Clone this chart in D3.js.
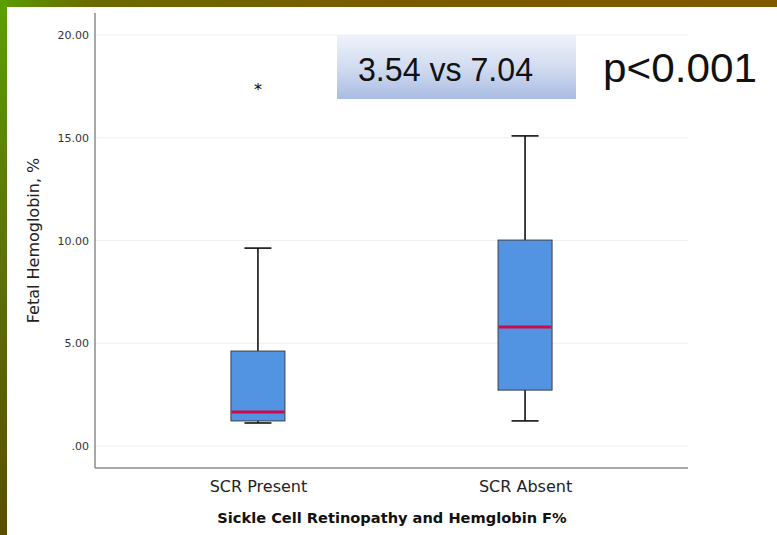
<!DOCTYPE html>
<html>
  <head>
    <title>Sickle Cell Retinopathy and Hemglobin F%</title>
    <meta charset="utf-8">
    <script type="text/javascript" src="https://cdn.jsdelivr.net/npm/d3@7"></script>
    <style type="text/css">
        body { margin: 0; padding: 0; background: #ffffff; }
        svg { display: block; }
    </style>
  </head>
  <body>
    <div id="viz"></div>
    <script type="text/javascript">
        // chart values
        var categories = ["SCR Present", "SCR Absent"];
        var whiskerLow = [1.12, 1.22];
        var q1 = [1.22, 2.72];
        var median = [1.65, 5.79];
        var q3 = [4.62, 10.02];
        var whiskerHigh = [9.63, 15.09];
        var outliers = [[17.47], []];
        var yTicks = [0, 5, 10, 15, 20];
        var yTickLabels = [".00", "5.00", "10.00", "15.00", "20.00"];
        var meanLabel = "3.54 vs 7.04";
        var pLabel = "p<0.001";

        var width = 777, height = 535;
        var svg = d3.select("#viz").append("svg")
            .attr("width", width)
            .attr("height", height);

        // slide background borders (green / brown)
        var defs = svg.append("defs");
        var topGrad = defs.append("linearGradient").attr("id", "topGrad")
            .attr("x1", "0").attr("x2", "1").attr("y1", "0").attr("y2", "0");
        topGrad.append("stop").attr("offset", "0").attr("stop-color", "#5a9c00");
        topGrad.append("stop").attr("offset", "0.12").attr("stop-color", "#6a6a00");
        topGrad.append("stop").attr("offset", "0.5").attr("stop-color", "#7a5c00");
        topGrad.append("stop").attr("offset", "1").attr("stop-color", "#7f5a00");
        var leftGrad = defs.append("linearGradient").attr("id", "leftGrad")
            .attr("x1", "0").attr("x2", "0").attr("y1", "0").attr("y2", "1");
        leftGrad.append("stop").attr("offset", "0").attr("stop-color", "#5aa000");
        leftGrad.append("stop").attr("offset", "0.35").attr("stop-color", "#5e7c08");
        leftGrad.append("stop").attr("offset", "0.6").attr("stop-color", "#5a6a0a");
        leftGrad.append("stop").attr("offset", "1").attr("stop-color", "#5a4e00");
        var boxGrad = defs.append("linearGradient").attr("id", "boxGrad")
            .attr("x1", "0").attr("x2", "0").attr("y1", "0").attr("y2", "1");
        boxGrad.append("stop").attr("offset", "0").attr("stop-color", "#eef2fa");
        boxGrad.append("stop").attr("offset", "0.5").attr("stop-color", "#d2dcf0");
        boxGrad.append("stop").attr("offset", "1").attr("stop-color", "#a9bce2");

        svg.append("rect").attr("x", 0).attr("y", 0).attr("width", width).attr("height", 7)
            .style("fill", "url(#topGrad)");
        svg.append("rect").attr("x", 0).attr("y", 0).attr("width", 7).attr("height", height)
            .style("fill", "url(#leftGrad)");

        // plot area (avoid the name "top", it is window.top)
        var plotLeft = 95, plotRight = 688, plotTop = 13, plotBottom = 468;
        var y = d3.scaleLinear().domain([0, 20]).range([446, 35]);
        var x = d3.scalePoint().domain(categories).range([plotLeft, plotRight]).padding(0.61);
        var boxW = 54, capW = 27;

        // grid lines
        svg.append("g").selectAll("line").data(yTicks).enter().append("line")
            .attr("x1", plotLeft).attr("x2", plotRight)
            .attr("y1", function(d) { return y(d); })
            .attr("y2", function(d) { return y(d); })
            .style("stroke", "#f0f0f0").style("stroke-width", 1.2);

        // y axis with custom labels
        var yAxis = d3.axisLeft(y).tickValues(yTicks).tickSize(0).tickPadding(6)
            .tickFormat(function(d, i) { return yTickLabels[i]; });
        var gy = svg.append("g").attr("transform", "translate(" + plotLeft + ",0)").call(yAxis);
        gy.select(".domain").remove();
        gy.selectAll("text").style("font-family", "DejaVu Sans").style("font-size", "11px")
            .style("fill", "#333");

        // x axis labels
        var xAxis = d3.axisBottom(x).tickSize(0).tickPadding(10);
        var gx = svg.append("g").attr("transform", "translate(0," + plotBottom + ")").call(xAxis);
        gx.select(".domain").remove();
        gx.selectAll("text").style("font-family", "DejaVu Sans").style("font-size", "16px")
            .style("fill", "#222").attr("dy", "0.85em");

        // axis lines
        svg.append("line").attr("x1", plotLeft).attr("x2", plotLeft).attr("y1", plotTop).attr("y2", plotBottom)
            .style("stroke", "#8c8c8c").style("stroke-width", 1.5);
        svg.append("line").attr("x1", plotLeft).attr("x2", plotRight).attr("y1", plotBottom).attr("y2", plotBottom)
            .style("stroke", "#8c8c8c").style("stroke-width", 1.5);

        // boxes
        var boxes = svg.append("g").selectAll("g").data(categories).enter().append("g");
        // whisker stem
        boxes.append("line")
            .attr("x1", function(d) { return x(d); }).attr("x2", function(d) { return x(d); })
            .attr("y1", function(d, i) { return y(whiskerHigh[i]); })
            .attr("y2", function(d, i) { return y(whiskerLow[i]); })
            .style("stroke", "#111").style("stroke-width", 1.6);
        // whisker caps
        boxes.append("line")
            .attr("x1", function(d) { return x(d) - capW / 2; }).attr("x2", function(d) { return x(d) + capW / 2; })
            .attr("y1", function(d, i) { return y(whiskerHigh[i]); })
            .attr("y2", function(d, i) { return y(whiskerHigh[i]); })
            .style("stroke", "#111").style("stroke-width", 1.6);
        boxes.append("line")
            .attr("x1", function(d) { return x(d) - capW / 2; }).attr("x2", function(d) { return x(d) + capW / 2; })
            .attr("y1", function(d, i) { return y(whiskerLow[i]); })
            .attr("y2", function(d, i) { return y(whiskerLow[i]); })
            .style("stroke", "#111").style("stroke-width", 1.6);
        // box
        boxes.append("rect")
            .attr("x", function(d) { return x(d) - boxW / 2; })
            .attr("width", boxW)
            .attr("y", function(d, i) { return y(q3[i]); })
            .attr("height", function(d, i) { return y(q1[i]) - y(q3[i]); })
            .style("fill", "#5294e2").style("stroke", "#3a3f4a").style("stroke-width", 1);
        // median
        boxes.append("line")
            .attr("x1", function(d) { return x(d) - boxW / 2 + 0.5; }).attr("x2", function(d) { return x(d) + boxW / 2 - 0.5; })
            .attr("y1", function(d, i) { return y(median[i]); })
            .attr("y2", function(d, i) { return y(median[i]); })
            .style("stroke", "#cc0a4c").style("stroke-width", 3);
        // outliers drawn as stars
        boxes.selectAll("text.outlier").data(function(d, i) { return outliers[i].map(function(v) { return [d, v]; }); })
            .enter().append("text").attr("class", "outlier")
            .attr("x", function(d) { return x(d[0]); })
            .attr("y", function(d) { return y(d[1]) + 8; })
            .attr("text-anchor", "middle")
            .style("font-family", "DejaVu Sans").style("font-size", "16px").style("fill", "#000")
            .text("*");

        // axis titles
        svg.append("text")
            .attr("transform", "translate(39," + ((plotTop + plotBottom) / 2) + ") rotate(-90)")
            .attr("text-anchor", "middle")
            .style("font-family", "DejaVu Sans").style("font-size", "16px").style("fill", "#222")
            .text("Fetal Hemoglobin, %");
        svg.append("text")
            .attr("x", 392).attr("y", 523)
            .attr("text-anchor", "middle")
            .style("font-family", "DejaVu Sans").style("font-size", "14.6px").style("font-weight", "bold")
            .style("fill", "#111")
            .text("Sickle Cell Retinopathy and Hemglobin F%");

        // annotation: means and p value
        svg.append("rect").attr("x", 337).attr("y", 35).attr("width", 239).attr("height", 64)
            .style("fill", "url(#boxGrad)");
        svg.append("text").attr("x", 358).attr("y", 81)
            .attr("textLength", 175).attr("lengthAdjust", "spacingAndGlyphs")
            .style("font-family", "Liberation Sans").style("font-size", "33px").style("fill", "#111")
            .text(meanLabel);
        svg.append("text").attr("x", 603).attr("y", 82)
            .attr("textLength", 154).attr("lengthAdjust", "spacingAndGlyphs")
            .style("font-family", "Liberation Sans").style("font-size", "40px").style("fill", "#111")
            .text(pLabel);
    </script>
  </body>
</html>
